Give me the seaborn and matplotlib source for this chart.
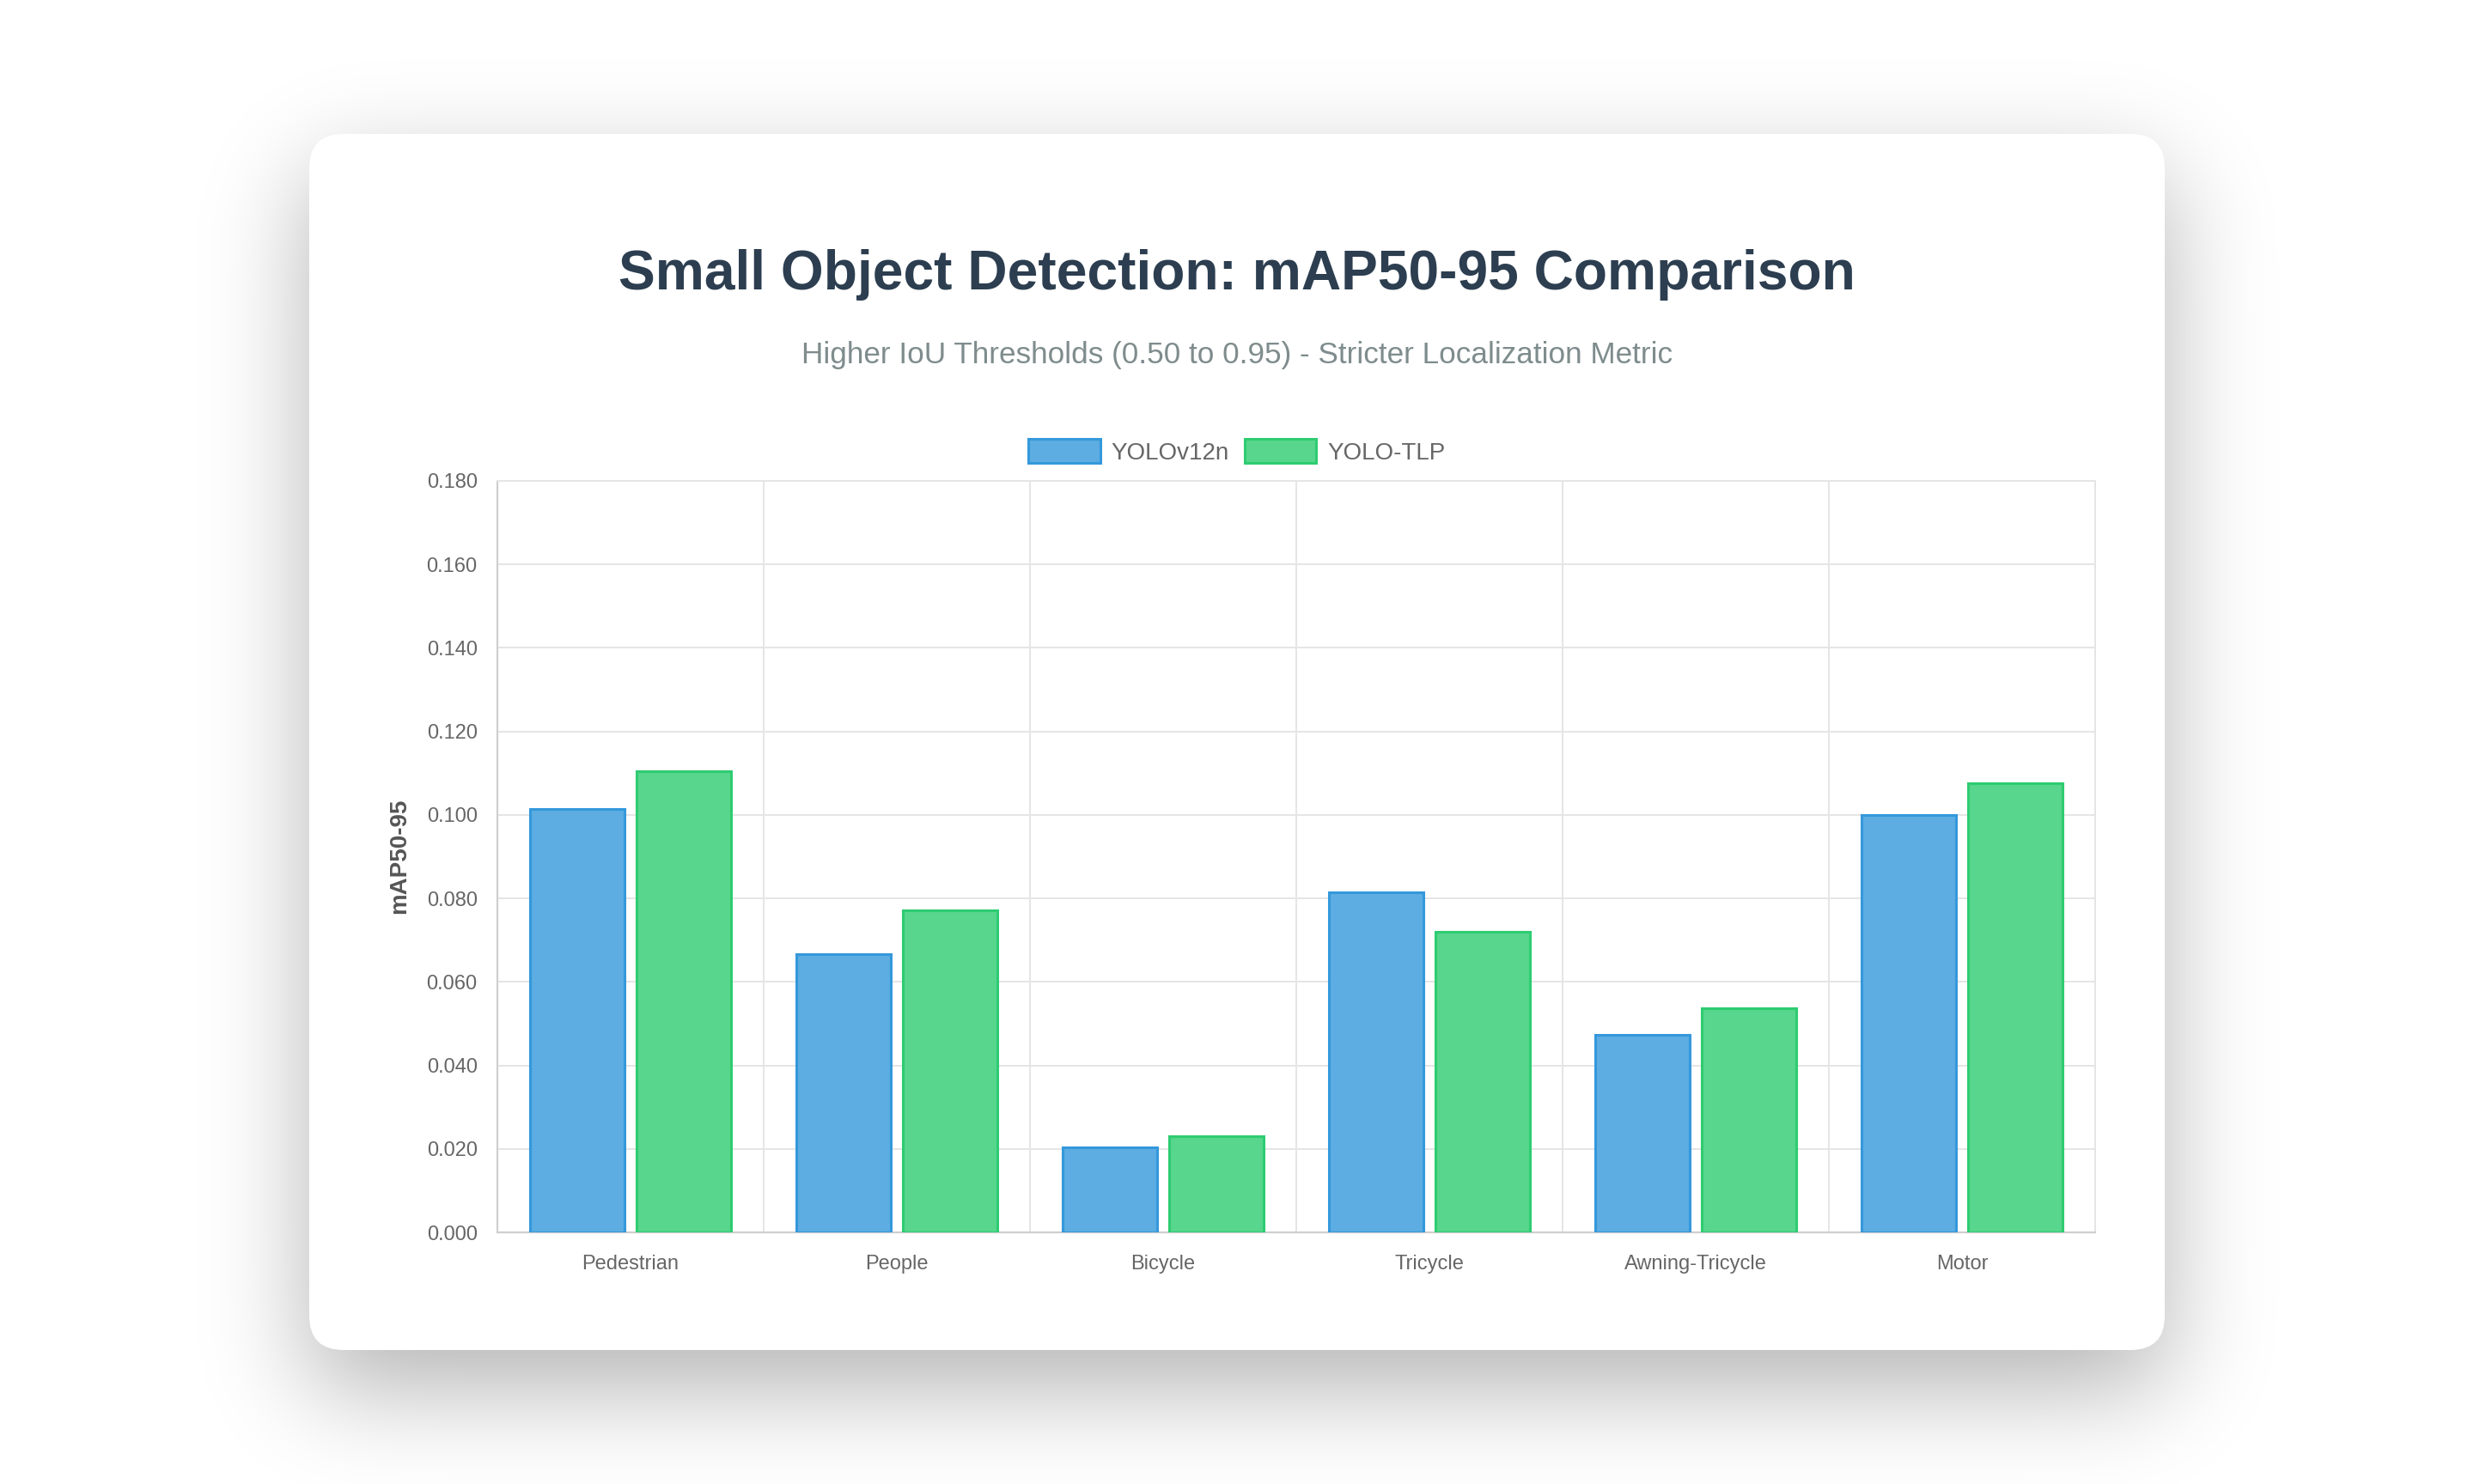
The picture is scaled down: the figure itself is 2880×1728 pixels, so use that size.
import math
import numpy as np
import pandas as pd
import matplotlib
matplotlib.use("Agg")
import matplotlib.pyplot as plt
import seaborn as sns
from matplotlib.patches import FancyBboxPatch, Patch
from matplotlib.ticker import FuncFormatter

# data
categories = ["Pedestrian", "People", "Bicycle", "Tricycle", "Awning-Tricycle", "Motor"]
models = ["YOLOv12n", "YOLO-TLP"]
yolov12n = [0.1015, 0.0666, 0.0203, 0.0815, 0.0474, 0.1000]
yolo_tlp = [0.1105, 0.0772, 0.0231, 0.0720, 0.0537, 0.1075]
y_ticks = [0.0, 0.02, 0.04, 0.06, 0.08, 0.10, 0.12, 0.14, 0.16, 0.18]

fill_colors = ["#5dade2", "#58d68d"]
edge_colors = ["#3498db", "#2ecc71"]

df = pd.DataFrame({
    "Category": categories * 2,
    "mAP50-95": yolov12n + yolo_tlp,
    "Model": [models[0]] * len(categories) + [models[1]] * len(categories),
})

sns.set_style("white")
plt.rcParams["font.family"] = ["Liberation Sans", "DejaVu Sans"]

W, H = 2880, 1728
fig = plt.figure(figsize=(14.4, 8.64), dpi=200)
fig.patch.set_facecolor("white")

# --- card background with soft shadow ---
bg = fig.add_axes([0, 0, 1, 1], zorder=0)
bg.set_xlim(0, W)
bg.set_ylim(H, 0)
bg.axis("off")

card_x0, card_x1, card_y0, card_y1 = 360, 2520, 156, 1572
sigma, off = 60.0, 45.0
verf = np.vectorize(math.erf)


def phi(z):
    return 0.5 * (1 + verf(z / math.sqrt(2)))


xs = np.arange(W) + 0.5
ys = np.arange(H) + 0.5
sx = phi((xs - card_x0) / sigma) - phi((xs - card_x1) / sigma)
sy = phi((ys - card_y0 - off) / sigma) - phi((ys - card_y1 - off) / sigma)
shadow = np.zeros((H, W, 4))
shadow[..., 3] = 0.3 * np.outer(sy, sx)
bg.imshow(shadow, extent=(0, W, H, 0), interpolation="nearest", aspect="auto")
bg.add_patch(FancyBboxPatch((card_x0, card_y0), card_x1 - card_x0, card_y1 - card_y0,
                            boxstyle="round,pad=0,rounding_size=40",
                            fc="white", ec="none", zorder=3))

# --- main chart ---
ax_l, ax_r, ax_t, ax_b = 579, 2439, 560, 1435
ax = fig.add_axes([ax_l / W, 1 - ax_b / H, (ax_r - ax_l) / W, (ax_b - ax_t) / H], zorder=2)
ax.set_facecolor("none")

sns.barplot(data=df, x="Category", y="mAP50-95", hue="Model", hue_order=models,
            palette=fill_colors, width=0.8, gap=0.115, errorbar=None, saturation=1,
            linewidth=1.1, legend=False, ax=ax, zorder=3)
for cont, ec in zip(ax.containers, edge_colors):
    for bar in cont:
        bar.set_edgecolor(ec)

grid_c = "#e5e5e5"
ax.set_xlim(-0.5, len(categories) - 0.5)
ax.set_ylim(0, 0.18)
ax.set_yticks(y_ticks)
ax.yaxis.set_major_formatter(FuncFormatter(lambda v, p: f"{v:.3f}"))
ax.set_xticks(np.arange(-0.5, len(categories), 1), minor=True)
ax.grid(axis="y", which="major", color=grid_c, lw=0.72, zorder=0)
ax.grid(axis="x", which="minor", color=grid_c, lw=0.72, zorder=0)
ax.set_axisbelow(True)
ax.tick_params(axis="y", which="major", length=5.4, width=0.72, color=grid_c,
               labelsize=8.5, labelcolor="#666666", pad=3)
ax.tick_params(axis="x", which="major", length=0, labelsize=8.5, labelcolor="#666666", pad=9.3)
ax.tick_params(axis="x", which="minor", length=5.4, width=0.72, color=grid_c)
ax.set_xlabel("")
ax.set_ylabel("")
for side in ["top", "right"]:
    ax.spines[side].set_color(grid_c)
    ax.spines[side].set_linewidth(0.72)
for side in ["left", "bottom"]:
    ax.spines[side].set_color("#cfcfcf")
    ax.spines[side].set_linewidth(0.8)

fig.text(465 / W, 1 - 997 / H, "mAP50-95", rotation=90, ha="center", va="center",
         fontsize=10, fontweight="bold", color="#555555")

# titles
fig.text(0.5, 1 - 320 / H, "Small Object Detection: mAP50-95 Comparison",
         ha="center", va="center", fontsize=23.1, fontweight="bold", color="#2c3e50")
fig.text(0.5, 1 - 414 / H, "Higher IoU Thresholds (0.50 to 0.95) - Stricter Localization Metric",
         ha="center", va="center", fontsize=12.66, color="#7f8c8d")

# legend
handles = [Patch(facecolor=f, edgecolor=e, linewidth=1.1) for f, e in zip(fill_colors, edge_colors)]
fig.legend(handles, models, loc="center", bbox_to_anchor=(0.5, 1 - 526 / H), ncol=2,
           frameon=False, fontsize=10, labelcolor="#666666", handlelength=3.0,
           handleheight=1.15, handletextpad=0.47, columnspacing=0.65, borderpad=0)

fig.savefig("out.png", dpi=200)
